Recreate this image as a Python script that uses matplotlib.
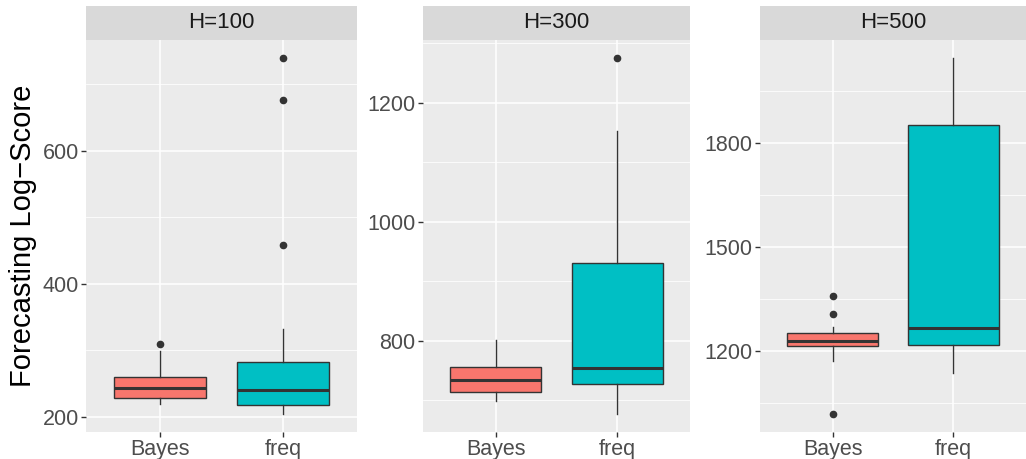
import numpy as np
import matplotlib.pyplot as plt

plt.rcParams['font.family'] = ['Liberation Sans', 'DejaVu Sans']

groups = ["Bayes", "freq"]
horizons = ["H=100", "H=300", "H=500"]
fills = ["#F8766D", "#00BFC4"]

# box statistics: [Bayes, freq]
whislo = [[219, 204], [699, 677], [1171, 1138]]
q1 = [[229, 218], [715, 727], [1216, 1218]]
med = [[244, 241], [734, 755], [1231, 1266]]
q3 = [[260, 283], [756, 930], [1252, 1851]]
whishi = [[299, 332], [801, 1153], [1271, 2046]]
fliers = [[[309], [458, 676, 740]],
          [[], [1275]],
          [[1019, 1307, 1359], []]]

major_ticks = [[200, 400, 600], [800, 1000, 1200], [1200, 1500, 1800]]
minor_ticks = [[300, 500, 700], [700, 900, 1100, 1300], [1050, 1350, 1650, 1950]]

W, H = 1026, 459
fig = plt.figure(figsize=(W / 100, H / 100), dpi=100)

panels = [(86, 357), (423, 690), (760, 1026)]
top, bottom, strip_top = 40, 432, 6

for i, (x0, x1) in enumerate(panels):
    ax = fig.add_axes([x0 / W, 1 - bottom / H, (x1 - x0) / W, (bottom - top) / H])
    ax.set_facecolor("#EBEBEB")
    stats = []
    for j in range(2):
        stats.append(dict(whislo=whislo[i][j], q1=q1[i][j], med=med[i][j],
                          q3=q3[i][j], whishi=whishi[i][j], fliers=fliers[i][j]))
    bp = ax.bxp(stats, positions=[1, 2], widths=0.75, patch_artist=True,
                showcaps=False,
                boxprops=dict(edgecolor="#333333", linewidth=1.0),
                whiskerprops=dict(color="#333333", linewidth=1.0),
                medianprops=dict(color="#333333", linewidth=2.2),
                flierprops=dict(marker="o", markersize=4.5, markerfacecolor="#333333",
                                markeredgecolor="#333333", linestyle="none"),
                zorder=3)
    for patch, c in zip(bp["boxes"], fills):
        patch.set_facecolor(c)

    lo = min(min(whislo[i]), min([min(f) for f in fliers[i] if f] + [1e9]))
    hi = max(max(whishi[i]), max([max(f) for f in fliers[i] if f] + [-1e9]))
    pad = (hi - lo) * 0.05
    ax.set_ylim(lo - pad, hi + pad)
    ax.set_xlim(0.4, 2.6)

    ax.set_yticks(major_ticks[i])
    ax.set_yticks(minor_ticks[i], minor=True)
    ax.set_xticks([1, 2])
    ax.set_xticklabels(groups)
    ax.grid(True, which="major", color="white", linewidth=1.1, zorder=0)
    ax.grid(True, which="minor", axis="y", color="white", linewidth=0.55, zorder=0)
    ax.set_axisbelow(True)
    for s in ax.spines.values():
        s.set_visible(False)
    ax.tick_params(axis="both", which="major", length=3.8, width=1.0, color="#333333",
                   labelsize=15.5, labelcolor="#4D4D4D", pad=1.5)
    ax.tick_params(axis="y", which="minor", length=0)

    sax = fig.add_axes([x0 / W, 1 - top / H, (x1 - x0) / W, (top - strip_top) / H])
    sax.set_facecolor("#D9D9D9")
    sax.set_xticks([])
    sax.set_yticks([])
    for s in sax.spines.values():
        s.set_visible(False)
    sax.text(0.5, 0.5, horizons[i], ha="center", va="center", fontsize=16,
             color="#1A1A1A", transform=sax.transAxes)

    if i == 0:
        ax.set_ylabel("Forecasting Log\u2212Score", fontsize=21, color="black", labelpad=4)

fig.savefig("out.png", dpi=100)
